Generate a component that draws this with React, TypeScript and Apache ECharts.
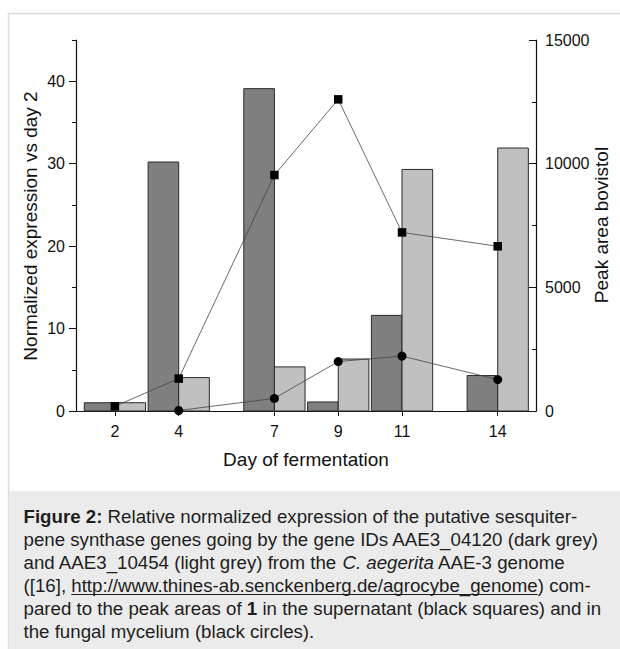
import React, { useEffect, useRef } from "react";
import * as echarts from "echarts";

const days = [2, 4, 7, 9, 11, 14];
const geneDark = [1.0, 30.2, 39.1, 1.1, 11.6, 4.3];
const geneLight = [1.0, 4.05, 5.35, 6.3, 29.3, 31.9];
const squares = [190, 1310, 9540, 12600, 7220, 6660];
const circleDays = [4, 7, 9, 11, 14];
const circles = [20, 510, 2000, 2220, 1270];
const leftLabels = [0, 10, 20, 30, 40];
const leftMinor = [5, 15, 25, 35, 45];

const urlPrefix = "([16], ";
const url = "http://www.thines-ab.senckenberg.de/agrocybe_genome";
const captionLines = [
  "{b|Figure 2:} Relative normalized expression of the putative sesquiter-",
  "pene synthase genes going by the gene IDs AAE3_04120 (dark grey)",
  "and AAE3_10454 (light grey) from the {i|C. aegerita} AAE-3 genome",
  urlPrefix + url + ") com-",
  "pared to the peak areas of {b|1} in the supernatant (black squares) and in",
  "the fungal mycelium (black circles).",
];

const FONT = "'Liberation Sans', Arial, Helvetica, sans-serif";
const CAP_SIZE = 18.7;
const CAP_X = 23.5;
const CAP_Y0 = 516;
const CAP_DY = 23;

function measure(text: string, size: number) {
  const c = document.createElement("canvas").getContext("2d");
  if (!c) return text.length * size * 0.5;
  c.font = `${size}px ${FONT}`;
  return c.measureText(text).width;
}

function barSeries(name: string, values: number[], side: number, color: string) {
  return {
    name,
    type: "custom",
    xAxisIndex: 0,
    yAxisIndex: 0,
    z: 1,
    data: days.map((d, i) => [d, values[i]]),
    encode: { x: 0, y: 1 },
    renderItem: (params: any, api: any) => {
      const d = api.value(0);
      const v = api.value(1);
      const l = side < 0 ? d - 0.96 : d;
      const r = side < 0 ? d : d + 0.96;
      const p0 = api.coord([l, 0]);
      const p1 = api.coord([r, v]);
      return {
        type: "rect",
        shape: { x: p0[0], y: p1[1], width: p1[0] - p0[0], height: p0[1] - p1[1] },
        style: { fill: color, stroke: "#2a2a2a", lineWidth: 1 },
      };
    },
  };
}

export default function App() {
  const ref = useRef<HTMLDivElement>(null);
  useEffect(() => {
    if (!ref.current) return;
    const chart = echarts.init(ref.current, null, { renderer: "svg" });
    const axisLine = { show: true, lineStyle: { color: "#111", width: 1.2 } };
    const labelStyle = { color: "#111", fontSize: 16, fontFamily: FONT };
    const capStyle = { fontSize: CAP_SIZE, fontFamily: FONT, fill: "#1e1e1e" };
    const ulStart = CAP_X + measure(urlPrefix, CAP_SIZE);
    const ulEnd = ulStart + measure(url, CAP_SIZE);
    const ulY = CAP_Y0 + 3 * CAP_DY + 9.5;
    chart.setOption({
      animation: false,
      backgroundColor: "#fff",
      grid: { left: 76, right: 84, top: 40, bottom: 238, outerBoundsMode: "none" },
      xAxis: {
        type: "value",
        min: 0.78,
        max: 15.2,
        axisLine,
        splitLine: { show: false },
        axisTick: { show: true, length: 5, customValues: days, lineStyle: { color: "#111" } },
        axisLabel: { ...labelStyle, margin: 12, customValues: days },
      },
      yAxis: [
        {
          type: "value",
          min: 0,
          max: 45,
          position: "left",
          axisLine,
          splitLine: { show: false },
          axisTick: { show: true, length: 7, customValues: leftLabels, lineStyle: { color: "#111" } },
          axisLabel: { ...labelStyle, margin: 11, customValues: leftLabels },
        },
        {
          type: "value",
          min: 0,
          max: 15000,
          interval: 5000,
          position: "right",
          axisLine,
          splitLine: { show: false },
          axisTick: { show: true, inside: true, length: 7, lineStyle: { color: "#111" } },
          minorTick: { show: true, splitNumber: 2, length: 4, lineStyle: { color: "#111" } },
          axisLabel: { ...labelStyle, margin: 9, formatter: (v: number) => String(v) },
        },
        {
          type: "value",
          min: 0,
          max: 45,
          position: "left",
          axisLine: { show: false },
          splitLine: { show: false },
          axisTick: { show: true, length: 4, customValues: leftMinor, lineStyle: { color: "#111" } },
          axisLabel: { show: false },
        },
      ],
      series: [
        barSeries("AAE3_04120", geneDark, -1, "#7f7f7f"),
        barSeries("AAE3_10454", geneLight, 1, "#c0c0c0"),
        {
          name: "supernatant",
          type: "line",
          yAxisIndex: 1,
          z: 5,
          data: days.map((d, i) => [d, squares[i]]),
          symbol: "rect",
          symbolSize: 8.5,
          lineStyle: { color: "#444", width: 0.8 },
          itemStyle: { color: "#000" },
        },
        {
          name: "mycelium",
          type: "line",
          yAxisIndex: 1,
          z: 5,
          data: circleDays.map((d, i) => [d, circles[i]]),
          symbol: "circle",
          symbolSize: 9,
          lineStyle: { color: "#444", width: 0.8 },
          itemStyle: { color: "#000" },
        },
      ],
      graphic: [
        {
          type: "rect",
          z: -10,
          silent: true,
          shape: { x: 8.5, y: 13.5, width: 700, height: 700 },
          style: { fill: "#fff", stroke: "#dcdcdc", lineWidth: 1.5 },
        },
        {
          type: "rect",
          z: -9,
          silent: true,
          shape: { x: 9, y: 491, width: 620, height: 170 },
          style: { fill: "#ebebeb" },
        },
        {
          type: "text",
          x: 30,
          y: 226,
          rotation: Math.PI / 2,
          style: {
            text: "Normalized expression vs day 2",
            fontSize: 19,
            fontFamily: FONT,
            fill: "#111",
            align: "center",
            verticalAlign: "middle",
          },
        },
        {
          type: "text",
          x: 601,
          y: 225,
          rotation: Math.PI / 2,
          style: {
            text: "Peak area bovistol",
            fontSize: 19,
            fontFamily: FONT,
            fill: "#111",
            align: "center",
            verticalAlign: "middle",
          },
        },
        {
          type: "text",
          x: 306,
          y: 459,
          style: {
            text: "Day of fermentation",
            fontSize: 19,
            fontFamily: FONT,
            fill: "#111",
            align: "center",
            verticalAlign: "middle",
          },
        },
        ...captionLines.map((t, i) => ({
          type: "text",
          x: CAP_X,
          y: CAP_Y0 + i * CAP_DY,
          style: {
            text: t,
            ...capStyle,
            align: "left",
            verticalAlign: "middle",
            rich: {
              b: { ...capStyle, fontWeight: "bold" },
              i: { ...capStyle, fontStyle: "italic" },
            },
          },
        })),
        {
          type: "line",
          shape: { x1: ulStart, y1: ulY, x2: ulEnd, y2: ulY },
          style: { stroke: "#1e1e1e", lineWidth: 1 },
        },
      ],
    });
    return () => chart.dispose();
  }, []);
  return (
    <div
      ref={ref}
      style={{ position: "absolute", left: 0, top: 0, width: 620, height: 649 }}
    />
  );
}
